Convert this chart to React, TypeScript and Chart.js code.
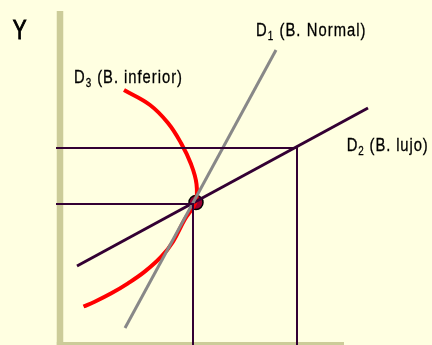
import React, { useEffect, useRef } from "react";
import { Chart, registerables } from "chart.js";

Chart.register(...registerables);

// Schematic values (x = quantity, y = income Y)
const QUANTITY_MARKS = [3.325, 5.925]; // Q at the two income levels
const INCOME_MARKS = [4.087, 5.71]; // Y0, Y1

const D1_NORMAL = [
  { x: 1.625, y: 0.493 },
  { x: 5.4, y: 8.551 },
];
const D2_LUJO = [
  { x: 0.425, y: 2.29 },
  { x: 7.7, y: 6.87 },
];
const D3_INFERIOR = [
  { x: 1.6, y: 7.391 },
  { x: 2.25, y: 6.957 },
  { x: 2.7, y: 6.435 },
  { x: 3.025, y: 5.855 },
  { x: 3.275, y: 5.246 },
  { x: 3.4125, y: 4.667 },
  { x: 3.3875, y: 4.145 },
  { x: 3.11, y: 3.623 },
  { x: 2.825, y: 2.994 },
  { x: 2.5325, y: 2.559 },
  { x: 2.1175, y: 2.125 },
  { x: 1.7, y: 1.788 },
  { x: 1.2825, y: 1.499 },
  { x: 0.8675, y: 1.255 },
  { x: 0.5875, y: 1.116 },
];
const EQUILIBRIUM = [{ x: 3.4, y: 4.13 }];

const AXIS_Y_TOP = 9.68;
const AXIS_X_END = 7.1;

const LABEL_Y = "Y";
const LABEL_D1 = ["D", "1", " (B. Normal)"];
const LABEL_D2 = ["D", "2", " (B. lujo)"];
const LABEL_D3 = ["D", "3", " (B. inferior)"];

const BG = "#FFFFE1";
const AXIS_COLOR = "#CCCC99";
const DARK = "#330033";
const FONT = '"Liberation Sans", Arial, sans-serif';

function drawParts(
  ctx: CanvasRenderingContext2D,
  parts: { t: string; s: number; dy: number }[],
  px: number,
  py: number,
  sx: number,
  spacing: number,
  stroke: number
) {
  ctx.save();
  ctx.translate(px, py);
  ctx.scale(sx, 1);
  ctx.fillStyle = "#000000";
  ctx.strokeStyle = "#000000";
  ctx.lineWidth = stroke;
  ctx.textBaseline = "alphabetic";
  ctx.textAlign = "left";
  (ctx as any).letterSpacing = spacing + "px";
  let cx = 0;
  for (const p of parts) {
    ctx.font = `${p.s}px ${FONT}`;
    ctx.fillText(p.t, cx, p.dy);
    if (stroke > 0) ctx.strokeText(p.t, cx, p.dy);
    cx += ctx.measureText(p.t).width;
  }
  ctx.restore();
}

const labelsPlugin = {
  id: "labelsPlugin",
  afterDatasetsDraw(chart: any) {
    const { ctx, scales } = chart;
    const X = (v: number) => scales.x.getPixelForValue(v);
    const Y = (v: number) => scales.y.getPixelForValue(v);
    const sub = (arr: string[]) => [
      { t: arr[0], s: 18, dy: 0 },
      { t: arr[1], s: 12, dy: 4 },
      { t: arr[2], s: 18, dy: 0 },
    ];
    drawParts(ctx, [{ t: LABEL_Y, s: 28, dy: 0 }], X(-1.18), Y(8.87), 0.74, 0, 1);
    drawParts(ctx, sub(LABEL_D3), X(0.35), Y(7.594), 0.82, 1.2, 0.3);
    drawParts(ctx, sub(LABEL_D1), X(4.9), Y(8.957), 0.82, 1.3, 0.3);
    drawParts(ctx, sub(LABEL_D2), X(7.167), Y(5.623), 0.82, 1.1, 0.3);
  },
};

export default function App() {
  const ref = useRef<HTMLCanvasElement>(null);
  useEffect(() => {
    if (!ref.current) return;
    const line = (data: any[], color: string, width: number, extra: any = {}) => ({
      data,
      showLine: true,
      borderColor: color,
      borderWidth: width,
      pointRadius: 0,
      borderCapStyle: "butt",
      borderJoinStyle: "miter",
      fill: false,
      tension: 0,
      ...extra,
    });
    const guides = QUANTITY_MARKS.map((q, i) =>
      line(
        [
          { x: -0.1, y: INCOME_MARKS[i] },
          { x: q, y: INCOME_MARKS[i] },
          { x: q, y: -0.2 },
        ],
        DARK,
        2
      )
    );
    const chart = new Chart(ref.current, {
      type: "scatter",
      data: {
        datasets: [
          ...guides,
          line([{ x: 0, y: -0.3 }, { x: 0, y: AXIS_Y_TOP }], AXIS_COLOR, 6.5),
          line([{ x: -0.08, y: 0 }, { x: AXIS_X_END, y: 0 }], AXIS_COLOR, 6),
          line(D1_NORMAL, "#888888", 3),
          line(D2_LUJO, DARK, 3),
          line(D3_INFERIOR, "#FF0000", 4, { tension: 0.4 }),
          {
            data: EQUILIBRIUM,
            showLine: false,
            pointRadius: 7,
            pointBackgroundColor: "#990033",
            pointBorderColor: "#000000",
            pointBorderWidth: 1.5,
          },
        ] as any,
      },
      options: {
        responsive: false,
        animation: false,
        layout: { padding: 0, autoPadding: false },
        plugins: { legend: { display: false }, tooltip: { enabled: false } },
        events: [],
        scales: {
          x: { type: "linear", display: false, min: -1.5, max: 9.3 },
          y: { type: "linear", display: false, min: 0, max: 10 },
        },
      },
      plugins: [labelsPlugin],
    });
    return () => chart.destroy();
  }, []);
  return (
    <div style={{ position: "fixed", left: 0, top: 0, width: 432, height: 345, background: BG }}>
      <canvas ref={ref} width={432} height={345} style={{ display: "block" }} />
    </div>
  );
}
